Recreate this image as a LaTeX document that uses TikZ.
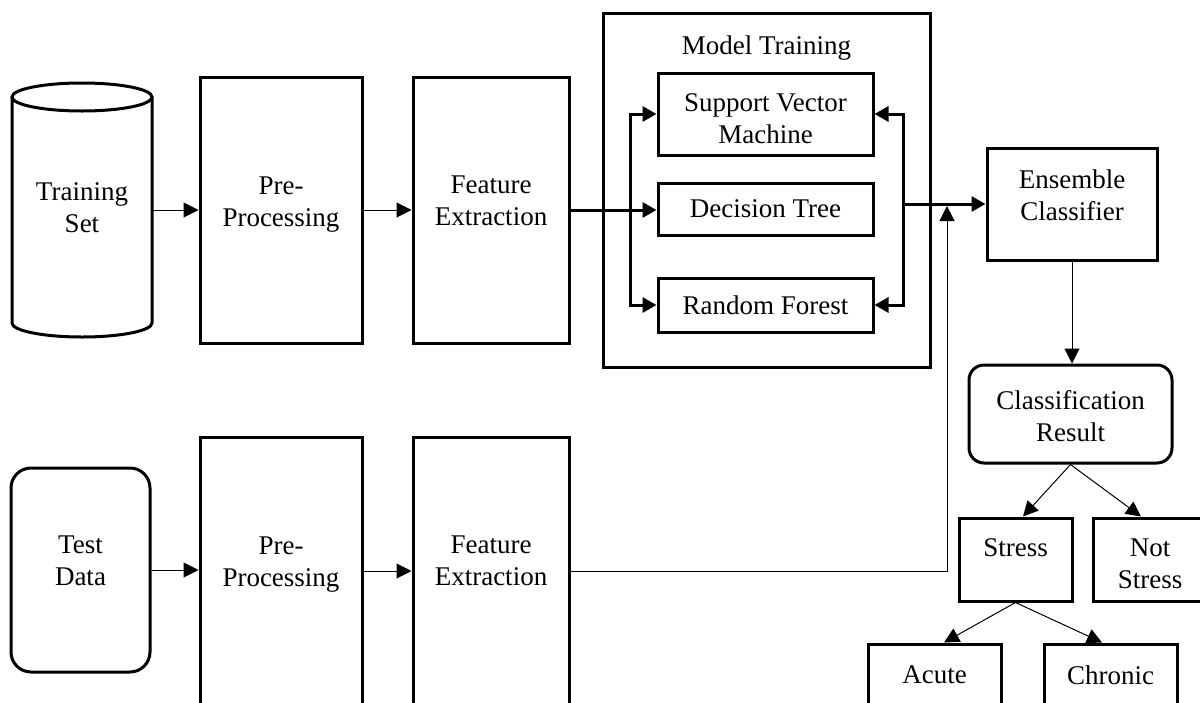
\documentclass[tikz,border=0pt]{standalone}
\usepackage{fontspec}
\setmainfont{Liberation Serif}
\usetikzlibrary{arrows.meta}
\begin{document}
\begin{tikzpicture}[x=0.5pt,y=-0.5pt,
  font=\fontsize{13.5}{16.25}\selectfont,
  box/.style={draw, line width=1.5pt, rectangle, inner sep=0pt},
  rbox/.style={box, rounded corners=7.5pt},
  txt/.style={anchor=north, align=center, inner sep=0pt},
  thinarr/.style={line width=0.5pt, -{Triangle[length=7.5pt,width=7.5pt]}},
  thickarr/.style={line width=1.5pt, -{Triangle[length=7pt,width=7.5pt]}},
]
\useasboundingbox (0,0) rectangle (1200,702);
\fill[white] (0,0) rectangle (1200,702);

% Training set cylinder
\node[inner sep=0pt, minimum width=70pt, minimum height=127pt] (ts) at (82,210) {};
\draw[line width=1.5pt] (12,97) -- (12,323) arc[start angle=180,end angle=360,x radius=35pt,y radius=7pt] -- (152,97);
\draw[line width=1.5pt] (82,97) ellipse[x radius=35pt, y radius=7pt];
\node[txt] (tst) at (82,182) {Training\\Set};

% top row
\node[box, minimum width=81pt, minimum height=133pt] (pre1) at (281,210) {};
\node[txt] (pre1t) at (281,176) {Pre-\\Processing};
\node[box, minimum width=78pt, minimum height=133pt] (fe1) at (491,210) {};
\node[txt] (fe1t) at (491,175) {Feature\\Extraction};

% model training
\node[box, minimum width=163.5pt, minimum height=177pt] (mt) at (766.5,190) {};
\node[txt] (mtt) at (766.5,35) {Model Training};
\node[box, minimum width=107.5pt, minimum height=41pt] (svm) at (765.5,114) {};
\node[txt] (svmt) at (765.5,93) {Support Vector\\Machine};
\node[box, minimum width=107.5pt, minimum height=26pt] (dt) at (765.5,209) {Decision Tree};
\node[box, minimum width=107.5pt, minimum height=27pt] (rf) at (765.5,305) {Random Forest};

% ensemble and results
\node[box, minimum width=85pt, minimum height=56pt] (ens) at (1072,204) {};
\node[txt] (enst) at (1072,169) {Ensemble\\Classifier};
\node[rbox, minimum width=101.5pt, minimum height=49pt] (cr) at (1070.5,414) {};
\node[txt] (crt) at (1070.5,390) {Classification\\Result};
\node[box, minimum width=56.5pt, minimum height=41.5pt] (stress) at (1015.5,559.5) {};
\node[txt] (stresst) at (1015.5,538) {Stress};
\node[box, minimum width=57pt, minimum height=41.5pt] (ns) at (1150,559.5) {};
\node[txt] (nst) at (1150,538) {Not\\Stress};
\node[box, minimum width=66.5pt, minimum height=38pt] (acute) at (934.5,682) {};
\node[txt] (acutet) at (934.5,665) {Acute};
\node[box, minimum width=66.5pt, minimum height=38pt] (chronic) at (1110.5,682) {};
\node[txt] (chronict) at (1110.5,665) {Chronic};

% bottom row
\node[box, rounded corners=10pt, minimum width=69.5pt, minimum height=102pt] (td) at (80.5,570) {};
\node[txt] (tdt) at (80.5,535) {Test\\Data};
\node[box, minimum width=81pt, minimum height=134pt] (pre2) at (281,571) {};
\node[txt] (pre2t) at (281,536) {Pre-\\Processing};
\node[box, minimum width=78pt, minimum height=134pt] (fe2) at (491,571) {};
\node[txt] (fe2t) at (491,535) {Feature\\Extraction};

% connectors
\draw[thinarr] (ts.east) -- (pre1.west);
\draw[thinarr] (pre1.east) -- (fe1.west);
\draw[thickarr] (fe1.east) -- (fe1.east -| dt.west);
\coordinate (lb) at (630,210);
\draw[thickarr] (lb) |- (svm.west);
\draw[thickarr] (lb) |- (rf.west);
\coordinate (rb) at (903,204);
\draw[thickarr] (rb) |- (svm.east);
\draw[thickarr] (rb) |- (rf.east);
\draw[thickarr] (rb) -- (ens.west);

\draw[thinarr] (td.east) -- (td.east -| pre2.west);
\draw[thinarr] (pre2.east) -- (fe2.west);
\coordinate (j) at (947,206);
\draw[thinarr] (fe2.east) -| (j);

\draw[thinarr] (ens.south) -- (ens.south |- cr.north);
\draw[thinarr] (cr.south) -- ([xshift=3.75pt]stress.north);
\draw[thinarr] (cr.south) -- ([xshift=-4.5pt]ns.north);
\draw[thinarr] (stress.south) -- ([xshift=4.75pt]acute.north);
\draw[thinarr] (stress.south) -- ([xshift=-4.25pt]chronic.north);
\end{tikzpicture}
\end{document}
